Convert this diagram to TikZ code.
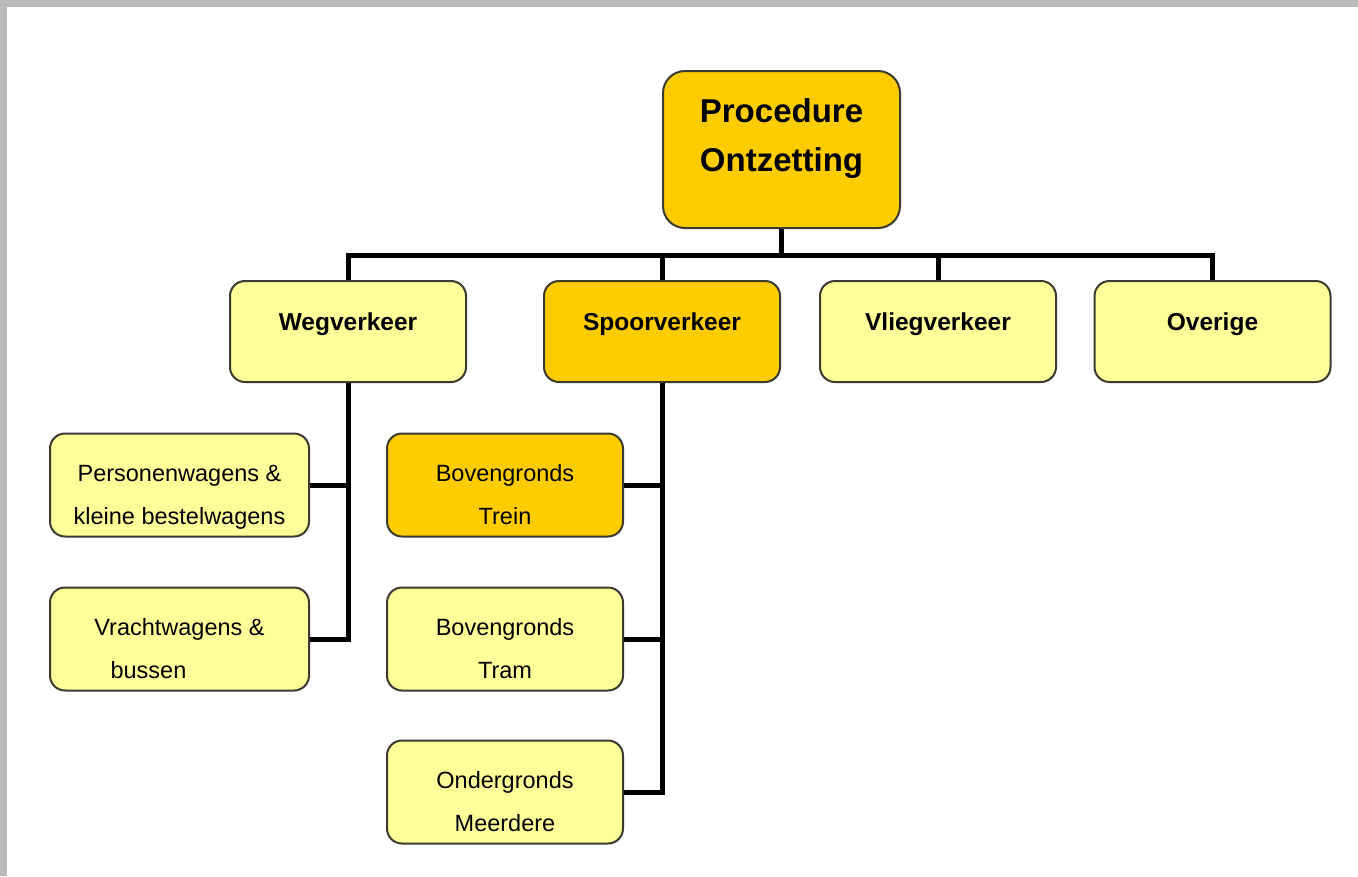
\documentclass[tikz,border=0pt]{standalone}
\usepackage{fontspec}
\setmainfont{Liberation Sans}
\usetikzlibrary{calc}
\definecolor{lightbox}{HTML}{FFFF99}
\definecolor{goldbox}{HTML}{FFCC00}
\definecolor{boxline}{HTML}{3A3A30}
\definecolor{framegray}{HTML}{B9B9B9}
\newcommand{\twol}[2]{\rule{0pt}{41pt}#1\\#2\rule[-5pt]{0pt}{5pt}}
\tikzset{
  box/.style={draw=boxline, line width=2pt, rounded corners=15pt, fill=lightbox,
    align=center, inner sep=0pt},
  goldfill/.style={fill=goldbox},
  rootbox/.style={box, rounded corners=22pt, minimum width=237pt, minimum height=157pt,
    font=\bfseries\fontsize{33}{49}\selectfont},
  catbox/.style={box, minimum width=236pt, minimum height=101pt,
    font=\bfseries\fontsize{24.5}{29}\selectfont, text height=18pt, text depth=21pt},
  subbox/.style={box, minimum height=103pt, font=\fontsize{23.5}{43}\selectfont},
  conn/.style={line width=5pt, line join=miter, draw=black}
}
\begin{document}
\begin{tikzpicture}[x=1pt,y=-1pt]
\useasboundingbox (0,0) rectangle (1358,876);
\fill[framegray] (0,0) rectangle (1358,876);
\fill[white] (7,7) rectangle (1358,876);

\coordinate (bus) at (0,255);

\node[rootbox, goldfill] (root) at (781.5,149.5) {Procedure\\Ontzetting\rule[-28pt]{0pt}{28pt}};

\node[catbox] (weg) at (348,331.5) {Wegverkeer};
\node[catbox, goldfill] (spoor) at (662,331.5) {Spoorverkeer};
\node[catbox] (vlieg) at (938,331.5) {Vliegverkeer};
\node[catbox] (ovr) at (1212.5,331.5) {Overige};

\node[subbox, minimum width=259pt] (pw1) at (179.5,485) {\twol{Personenwagens \&}{kleine bestelwagens}};
\node[subbox, minimum width=259pt] (pw2) at (179.5,639) {\twol{Vrachtwagens \&}{bussen\kern62pt}};

\node[subbox, goldfill, minimum width=236pt] (trein) at (505,485) {\twol{Bovengronds}{Trein}};
\node[subbox, minimum width=236pt] (tram) at (505,639) {\twol{Bovengronds}{Tram}};
\node[subbox, minimum width=236pt] (ond) at (505,792) {\twol{Ondergronds}{Meerdere}};

% top level connectors
\draw[conn] (root.south) -- (root.south |- bus);
\draw[conn] (weg.north) |- (ovr.north |- bus) -- (ovr.north);
\draw[conn] (spoor.north) -- (spoor.north |- bus);
\draw[conn] (vlieg.north) -- (vlieg.north |- bus);

% Wegverkeer children
\draw[conn] (weg.south) |- (pw2.east);
\draw[conn] (pw1.east) -- (pw1.east -| weg.south);

% Spoorverkeer children
\draw[conn] (spoor.south) |- (ond.east);
\draw[conn] (trein.east) -- (trein.east -| spoor.south);
\draw[conn] (tram.east) -- (tram.east -| spoor.south);
\end{tikzpicture}
\end{document}
